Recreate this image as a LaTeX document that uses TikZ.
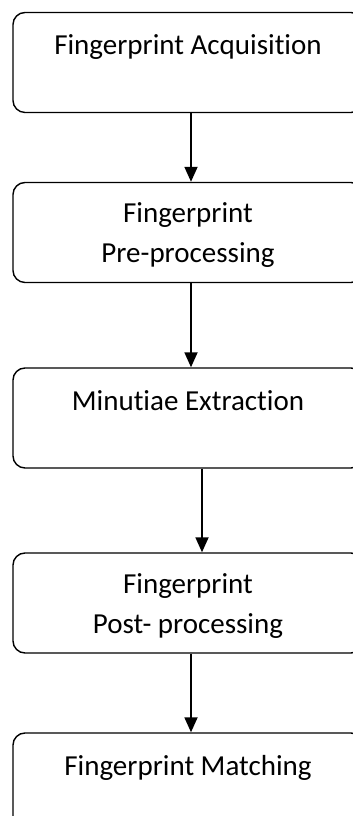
\documentclass[tikz,border=0pt]{standalone}
\usepackage{fontspec}
\setmainfont{Carlito}[Ligatures=NoCommon]
\usetikzlibrary{arrows.meta}
\usetikzlibrary{positioning}

\tikzset{
    stagebox/.style={draw, line width=1.4pt, rounded corners=12pt,
        minimum width=350pt, minimum height=100pt, align=center,
        font=\fontsize{29}{40}\selectfont, text height=20pt, text depth=35pt},
    twolines/.style={text height=68pt, text depth=7pt},
    flow/.style={line width=1.8pt, -{Triangle[width=13pt,length=15pt]}}
}

\begin{document}
\begin{tikzpicture}[x=1pt, y=1pt]
    % Marco de la imagen (las cajas se salen por la derecha)
    \useasboundingbox (0,0) rectangle (353,816);
    \clip (0,0) rectangle (353,816);

    % Cajas de las etapas
    \node[stagebox] (acq) at (188, 753.5) {Fingerprint Acquisition}; % etapa 1
    \node[stagebox, twolines] (pre) at (188, 583.5) {Fingerprint\\Pre-processing}; % etapa 2
    \node[stagebox] (minu) at (188, 398) {Minutiae Extraction}; % etapa 3
    \node[stagebox, twolines] (post) at (188, 213) {Fingerprint\\Post- processing}; % etapa 4
    \node[stagebox] (match) at (188, 33) {Fingerprint Matching}; % etapa 5

    % Flechas entre etapas
    \draw[flow] ([xshift=3pt]acq.south) -- ([xshift=3pt]pre.north);
    \draw[flow] ([xshift=3pt]pre.south) -- ([xshift=3pt]minu.north);
    \draw[flow] ([xshift=14pt]minu.south) -- ([xshift=14pt]post.north);
    \draw[flow] ([xshift=3pt]post.south) -- ([xshift=3pt]match.north);

\end{tikzpicture}
\end{document}
